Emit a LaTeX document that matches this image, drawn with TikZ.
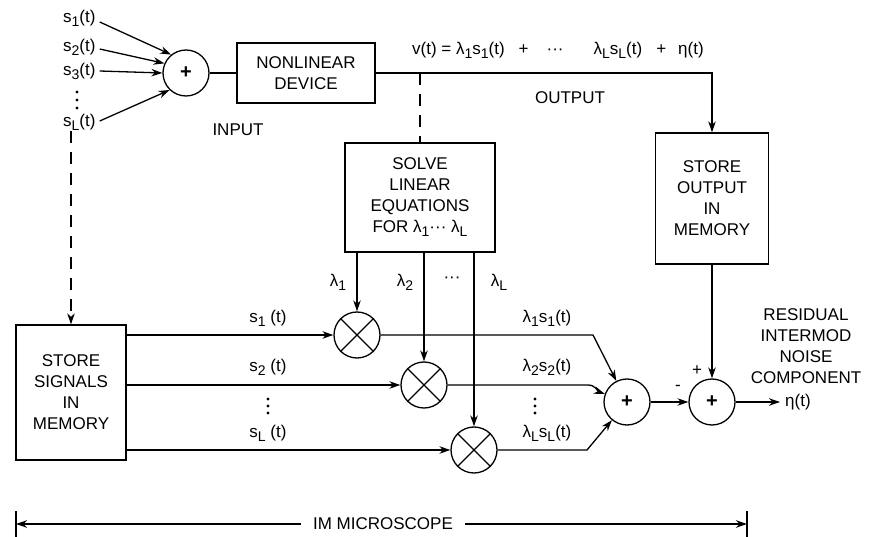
\documentclass[tikz,border=0pt]{standalone}
\usepackage{fontspec}
\setmainfont{Liberation Sans}
\usetikzlibrary{arrows.meta,calc}
\newcommand{\lowsub}[1]{\raisebox{-0.45ex}{\fontsize{14}{14}\selectfont #1}}
\begin{document}
\begin{tikzpicture}[x=1pt,y=-1pt,
  every node/.style={font=\fontsize{17}{21}\selectfont, inner sep=1pt},
  lw/.style={line width=1.3pt},
  tip/.tip={Stealth[length=11pt,width=7.5pt]},
  arr/.style={lw,-tip},
  blk/.style={draw,lw,align=center,inner sep=0pt},
  sumc/.style={draw,lw,circle,minimum size=46pt,inner sep=0pt,font=\fontsize{20}{20}\selectfont\bfseries},
  mult/.style={draw,lw,circle,minimum size=46pt,inner sep=0pt},
  dsh/.style={lw,dash pattern=on 12pt off 9pt},
  vdot/.style={fill=black}]
\useasboundingbox (0,0) rectangle (876,537);
% inputs
\node[anchor=west] (s1) at (62,18) {s\lowsub{1}(t)};
\node[anchor=west] (s2) at (62,47) {s\lowsub{2}(t)};
\node[anchor=west] (s3) at (62,71) {s\lowsub{3}(t)};
\node[anchor=west] (sL) at (62,122) {s\lowsub{L}(t)};
\foreach \y in {92,100,108} {\fill[vdot] (77,\y) circle (1.7pt);}
\node[sumc] (sa) at (186,73) {+};
\draw[arr] ([xshift=3pt,yshift=-4pt]s1.east) -- (sa.129);
\draw[arr] ([xshift=3pt,yshift=-2pt]s2.east) -- (sa.156);
\draw[arr] ([xshift=3pt]s3.east) -- (sa.180);
\draw[arr] ([xshift=3pt,yshift=1pt]sL.east) -- (sa.226);
\node[blk,minimum width=138pt,minimum height=60pt] (nd) at (306,73) {NONLINEAR\\DEVICE};
\draw[lw] (sa) -- (nd);
\node (inp) at (238,130) {INPUT};
% output path
\node[blk,minimum width=113pt,minimum height=131pt] (so) at (712,198.5) {STORE\\OUTPUT\\IN\\MEMORY};
\coordinate (corner) at (so.north |- nd.east);
\draw[arr] (nd.east) -- (corner) -- (so.north);
\node[anchor=west] (vt) at (411,50) {v(t) = λ\lowsub{1}s\lowsub{1}(t)\hspace{14pt}+\hspace{18pt}···\hspace{30pt}λ\lowsub{L}s\lowsub{L}(t)\hspace{14pt}+\hspace{12pt}η(t)};
\node (outl) at (570,98) {OUTPUT};
\node[blk,minimum width=150pt,minimum height=109pt] (sl) at (420,197.5) {SOLVE\\LINEAR\\EQUATIONS\\FOR λ\lowsub{1}···\ λ\lowsub{L}};
\draw[dsh] (sl.north |- nd.east) -- (sl.north);
% store signals
\node[blk,minimum width=110pt,minimum height=135pt] (ss) at (71,392.5) {STORE\\SIGNALS\\IN\\MEMORY};
\draw[dsh,-tip] (ss.north |- sL.south) -- (ss.north);
% multipliers
\node[mult] (m1) at (357,335) {};
\node[mult] (m2) at (424,385) {};
\node[mult] (mL) at (474,450) {};
\foreach \m in {m1,m2,mL} {\draw[lw] (\m.north west) -- (\m.south east) (\m.north east) -- (\m.south west);}
\draw[arr] (m1 |- sl.south) -- (m1);
\draw[arr] (m2 |- sl.south) -- (m2);
\draw[arr] (mL |- sl.south) -- (mL);
\node (l1) at (338,282) {λ\lowsub{1}};
\node (l2) at (405,282) {λ\lowsub{2}};
\node (ld) at (452,280) {···};
\node (lL) at (499,282) {λ\lowsub{L}};
\draw[arr] (ss.east |- m1) -- (m1);
\draw[arr] (ss.east |- m2) -- (m2);
\draw[arr] (ss.east |- mL) -- (mL);
\node (t1) at (268,318) {s\lowsub{1} (t)};
\node (t2) at (268,367) {s\lowsub{2} (t)};
\foreach \y in {399,406,413} {\fill[vdot] (268,\y) circle (1.7pt);}
\node (tL) at (268,433) {s\lowsub{L} (t)};
% sums
\node[sumc] (sb) at (627,402) {+};
\node[sumc] (sc) at (712,402) {+};
\coordinate (b1) at (593,335);
\coordinate (b2) at (588,385);
\coordinate (b3) at (587,450);
\draw[arr] (m1) -- (b1) -- (sb);
\draw[arr] (m2) -- (b2) to[out=0,in=160] (sb.160);
\draw[arr] (mL) -- (b3) -- (sb);
\node (p1) at (547,318) {λ\lowsub{1}s\lowsub{1}(t)};
\node (p2) at (547,367) {λ\lowsub{2}s\lowsub{2}(t)};
\foreach \y in {399,406,413} {\fill[vdot] (535,\y) circle (1.7pt);}
\node (pL) at (547,433) {λ\lowsub{L}s\lowsub{L}(t)};
\draw[arr] (sb) -- (sc);
\node (mi) at (678,388) {-};
\node (pl) at (697,371) {+};
\draw[arr] (so.south) -- (sc);
\coordinate (eo) at (780,402);
\draw[arr] (sc) -- (eo);
\node[anchor=west] (eta) at (784,402) {η(t)};
\node[align=center] (res) at (806,346) {RESIDUAL\\INTERMOD\\NOISE\\COMPONENT};
% IM microscope
\coordinate (ia) at (16,524);
\coordinate (ib) at (747,524);
\draw[lw,tip-tip] (ia) -- (ib);
\draw[lw] ([yshift=-13pt]ia) -- ([yshift=13pt]ia);
\draw[lw] ([yshift=-13pt]ib) -- ([yshift=13pt]ib);
\node[fill=white,inner xsep=12pt,inner ysep=2pt] (im) at (383,524) {IM MICROSCOPE};
\end{tikzpicture}
\end{document}
